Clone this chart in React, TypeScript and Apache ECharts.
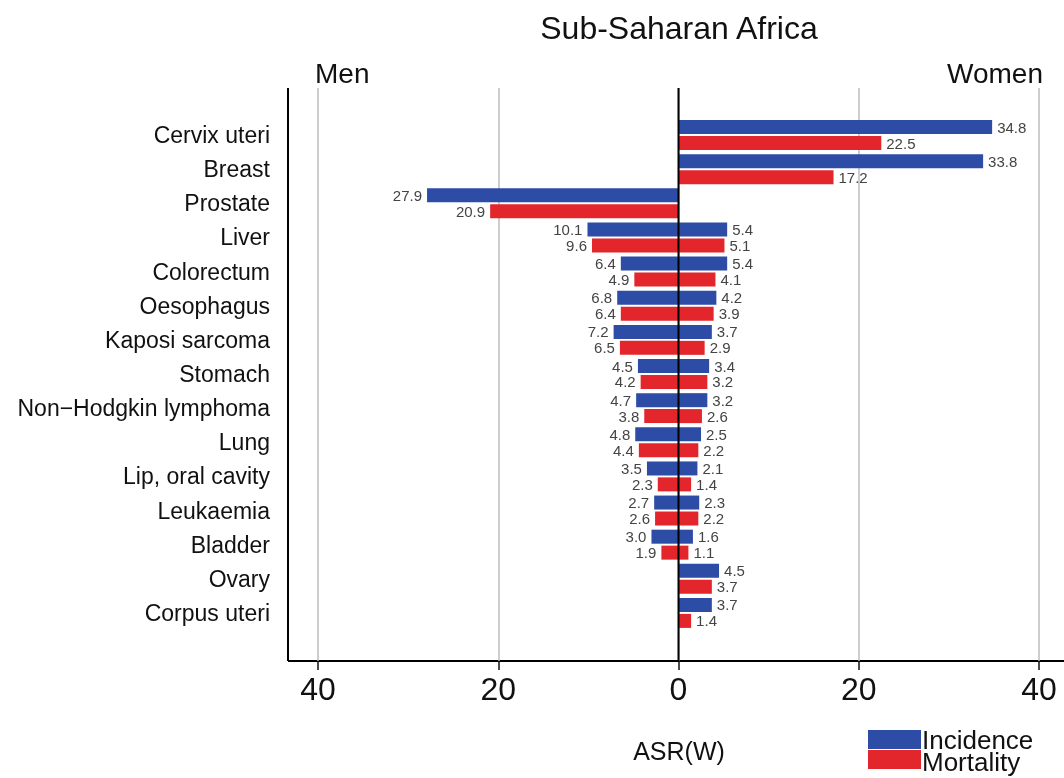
import React, { useEffect, useRef } from "react";
import * as echarts from "echarts";

const categories = [
  "Cervix uteri", "Breast", "Prostate", "Liver", "Colorectum", "Oesophagus",
  "Kaposi sarcoma", "Stomach", "Non\u2212Hodgkin lymphoma", "Lung",
  "Lip, oral cavity", "Leukaemia", "Bladder", "Ovary", "Corpus uteri",
];
const menIncidence = [null, null, 27.9, 10.1, 6.4, 6.8, 7.2, 4.5, 4.7, 4.8, 3.5, 2.7, 3.0, null, null];
const menMortality = [null, null, 20.9, 9.6, 4.9, 6.4, 6.5, 4.2, 3.8, 4.4, 2.3, 2.6, 1.9, null, null];
const womenIncidence = [34.8, 33.8, null, 5.4, 5.4, 4.2, 3.7, 3.4, 3.2, 2.5, 2.1, 2.3, 1.6, 4.5, 3.7];
const womenMortality = [22.5, 17.2, null, 5.1, 4.1, 3.9, 2.9, 3.2, 2.6, 2.2, 1.4, 2.2, 1.1, 3.7, 1.4];
const legendNames = ["Incidence", "Mortality"];

const BLUE = "#2C4CA6";
const RED = "#E2262B";
const FONT = "Liberation Sans, Arial, sans-serif";

export default function App() {
  const ref = useRef<HTMLDivElement>(null);
  useEffect(() => {
    const chart = echarts.init(ref.current!, null, { renderer: "svg" });
    const neg = (a: (number | null)[]) => a.map((v) => (v == null ? null : -v));
    const lbl = (pos: string) => ({
      show: true,
      position: pos,
      distance: 5,
      fontSize: 15,
      color: "#444",
      fontFamily: FONT,
      formatter: (p: any) => Math.abs(p.value).toFixed(1),
    });
    const barCommon = {
      type: "bar",
      xAxisIndex: 1,
      yAxisIndex: 1,
      barWidth: 14,
      barGap: "14%",
    };
    chart.setOption({
      animation: false,
      textStyle: { fontFamily: FONT },
      grid: [
        { left: 318, right: 25, top: 88, bottom: 117 },
        { left: 318, right: 25, top: 118, height: 512 },
      ],
      xAxis: [
        {
          gridIndex: 0,
          type: "value",
          min: -40,
          max: 40,
          interval: 20,
          axisLine: { show: false },
          axisTick: { show: true, length: 9, lineStyle: { color: "#111", width: 1.5 } },
          axisLabel: {
            fontSize: 32,
            color: "#111",
            margin: 12,
            formatter: (v: number) => String(Math.abs(v)),
            showMinLabel: true,
            showMaxLabel: true,
          },
          splitLine: { show: true, lineStyle: { color: "#bdbdbd", width: 1.5 } },
        },
        { gridIndex: 1, type: "value", min: -40, max: 40, show: false },
      ],
      yAxis: [
        { gridIndex: 0, type: "value", min: 0, max: 1, show: false },
        {
          gridIndex: 1,
          type: "category",
          data: categories,
          inverse: true,
          axisLine: { show: false },
          axisTick: { show: false },
          axisLabel: { fontSize: 23, color: "#111", margin: 48, fontFamily: FONT },
        },
      ],
      series: [
        {
          type: "line",
          xAxisIndex: 0,
          yAxisIndex: 0,
          data: [[0, 0], [0, 1]],
          symbol: "none",
          lineStyle: { color: "#000", width: 2 },
          silent: true,
          z: 5,
        },
        { ...barCommon, name: legendNames[0], stack: "inc", data: neg(menIncidence), itemStyle: { color: BLUE }, label: lbl("left") },
        { ...barCommon, name: legendNames[0], stack: "inc", data: womenIncidence, itemStyle: { color: BLUE }, label: lbl("right") },
        { ...barCommon, name: legendNames[1], stack: "mort", data: neg(menMortality), itemStyle: { color: RED }, label: lbl("left") },
        { ...barCommon, name: legendNames[1], stack: "mort", data: womenMortality, itemStyle: { color: RED }, label: lbl("right") },
      ],
      graphic: [
        { type: "line", shape: { x1: 288, y1: 88, x2: 288, y2: 661 }, style: { stroke: "#000", lineWidth: 2 } },
        { type: "line", shape: { x1: 288, y1: 661, x2: 1064, y2: 661 }, style: { stroke: "#000", lineWidth: 2 } },
        { type: "text", x: 679, y: 28, style: { text: "Sub-Saharan Africa", fontSize: 32, fill: "#111", fontFamily: FONT, textAlign: "center", textVerticalAlign: "middle" } },
        { type: "text", x: 315, y: 73, style: { text: "Men", fontSize: 28, fill: "#111", fontFamily: FONT, textAlign: "left", textVerticalAlign: "middle" } },
        { type: "text", x: 1043, y: 73, style: { text: "Women", fontSize: 28, fill: "#111", fontFamily: FONT, textAlign: "right", textVerticalAlign: "middle" } },
        { type: "text", x: 679, y: 751, style: { text: "ASR(W)", fontSize: 25, fill: "#111", fontFamily: FONT, textAlign: "center", textVerticalAlign: "middle" } },
        { type: "rect", shape: { x: 868, y: 730, width: 53, height: 19 }, style: { fill: BLUE } },
        { type: "rect", shape: { x: 868, y: 750, width: 53, height: 19 }, style: { fill: RED } },
        { type: "text", x: 922, y: 740, style: { text: legendNames[0], fontSize: 26, lineHeight: 20, fill: "#111", fontFamily: FONT, textAlign: "left", textVerticalAlign: "middle" } },
        { type: "text", x: 922, y: 762, style: { text: legendNames[1], fontSize: 26, lineHeight: 20, fill: "#111", fontFamily: FONT, textAlign: "left", textVerticalAlign: "middle" } },
      ],
    });
    return () => chart.dispose();
  }, []);
  return <div ref={ref} style={{ position: "fixed", left: 0, top: 0, width: 1064, height: 778 }} />;
}
